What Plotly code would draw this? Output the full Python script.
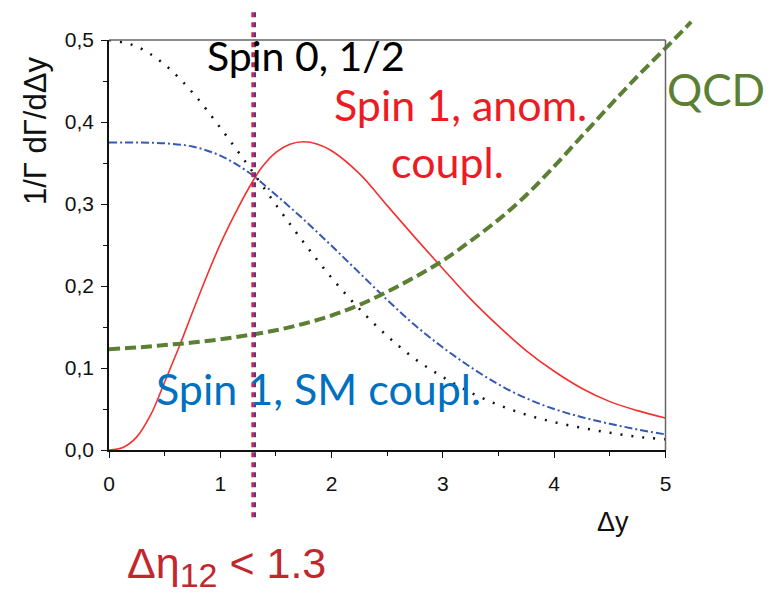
import plotly.graph_objects as go

# ---------------- data ----------------
dy = [0.0, 0.25, 0.5, 0.75, 1.0, 1.25, 1.5, 1.75, 2.0, 2.25, 2.5,
      2.75, 3.0, 3.25, 3.5, 3.75, 4.0, 4.25, 4.5, 4.75, 5.0]
spin0_half = [0.500, 0.492, 0.470, 0.436, 0.393, 0.347, 0.299, 0.253, 0.210, 0.172, 0.139,
              0.111, 0.089, 0.070, 0.055, 0.043, 0.034, 0.027, 0.021, 0.016, 0.013]
spin1_sm = [0.375, 0.375, 0.374, 0.370, 0.359, 0.339, 0.311, 0.281, 0.249, 0.216, 0.183,
            0.152, 0.125, 0.101, 0.080, 0.063, 0.050, 0.040, 0.032, 0.025, 0.019]
anom_dy = [0.0, 0.125, 0.25, 0.375, 0.5, 0.625, 0.75, 0.875, 1.0, 1.125, 1.25, 1.375,
           1.5, 1.625, 1.75, 1.875, 2.0, 2.25, 2.5, 2.75, 3.0, 3.25, 3.5, 3.75,
           4.0, 4.25, 4.5, 4.75, 5.0]
spin1_anom = [0.000, 0.003, 0.016, 0.043, 0.083, 0.124, 0.168, 0.211, 0.251, 0.286, 0.318, 0.345,
              0.363, 0.373, 0.376, 0.373, 0.365, 0.337, 0.298, 0.259, 0.221, 0.184, 0.151, 0.121,
              0.096, 0.075, 0.059, 0.048, 0.039]
qcd_dy = [0.0, 0.25, 0.5, 0.75, 1.0, 1.25, 1.5, 1.75, 2.0, 2.25, 2.5,
          2.75, 3.0, 3.25, 3.5, 3.75, 4.0, 4.25, 4.5, 4.75, 5.0, 5.23]
qcd = [0.123, 0.125, 0.128, 0.131, 0.135, 0.140, 0.146, 0.154, 0.164, 0.177, 0.193,
       0.211, 0.231, 0.255, 0.281, 0.311, 0.346, 0.383, 0.420, 0.456, 0.490, 0.522]
cut_value = 1.3
cut_line_span = [-0.082, 0.539]
x_tick_vals = [0, 1, 2, 3, 4, 5]
y_tick_vals = [0.0, 0.1, 0.2, 0.3, 0.4, 0.5]

# ---------------- layout geometry ----------------
W, H = 773, 593
X0PX, X5PX = 109.0, 665.5
Y0PX, YTPX = 450.0, 40.0
XMAX, YMAX = 5.0, 0.5
ux = (X5PX - X0PX) / XMAX
uy = (Y0PX - YTPX) / YMAX

GILL = "Lato"
ARIAL = "Liberation Sans"

fig = go.Figure()

# main-axis curves
fig.add_trace(go.Scatter(x=dy, y=spin0_half, mode="lines", line_shape="spline",
                         line=dict(color="#111111", width=2.5, dash="2px,9px"),
                         xaxis="x", yaxis="y", showlegend=False))
fig.add_trace(go.Scatter(x=dy, y=spin1_sm, mode="lines", line_shape="spline",
                         line=dict(color="#3558B0", width=2, dash="8px,3px,2px,3px"),
                         xaxis="x", yaxis="y", showlegend=False))
fig.add_trace(go.Scatter(x=anom_dy, y=spin1_anom, mode="lines", line_shape="spline",
                         line=dict(color="#F5312F", width=1.6),
                         xaxis="x", yaxis="y", showlegend=False))

# overlay (whole figure) axes with identical scale, for marks drawn past the frame
fig.add_trace(go.Scatter(x=qcd_dy, y=qcd, mode="lines", line_shape="spline",
                         line=dict(color="#5B7F33", width=4, dash="11px,5px"),
                         xaxis="x2", yaxis="y2", showlegend=False))
off = 1.1 / ux
fig.add_trace(go.Scatter(x=[cut_value - off] * 2, y=cut_line_span, mode="lines",
                         line=dict(color="#D01A36", width=2.4, dash="5px,5px"),
                         xaxis="x2", yaxis="y2", showlegend=False))
fig.add_trace(go.Scatter(x=[cut_value + off] * 2, y=cut_line_span, mode="lines",
                         line=dict(color="#62308E", width=2.4, dash="5px,5px"),
                         xaxis="x2", yaxis="y2", showlegend=False))

tickfont = dict(family=ARIAL, size=21, color="#111111")
fig.update_layout(
    template="none",
    width=W, height=H, autosize=False,
    margin=dict(l=0, r=0, t=0, b=0, pad=0, autoexpand=False),
    paper_bgcolor="white", plot_bgcolor="rgba(0,0,0,0)",
    separators=",.",
    xaxis=dict(domain=[X0PX / W, X5PX / W], range=[0, XMAX], anchor="y", automargin=False,
               showgrid=False, zeroline=False, showline=True, linecolor="#111111", linewidth=1.5,
               ticks="outside", ticklen=6, tickwidth=1.3, tickcolor="#111111",
               tickvals=x_tick_vals, tickformat="d", tickfont=tickfont, ticklabelstandoff=8,
               minor=dict(dtick=0.5, ticks="outside", ticklen=4, tickwidth=1.2, tickcolor="#111111")),
    yaxis=dict(domain=[(H - Y0PX) / H, (H - YTPX) / H], range=[0, YMAX], anchor="x", automargin=False,
               showgrid=False, zeroline=False, showline=True, linecolor="#111111", linewidth=1.5,
               ticks="outside", ticklen=6, tickwidth=1.3, tickcolor="#111111",
               tickvals=y_tick_vals, tickformat=".1f", tickfont=tickfont, ticklabelstandoff=3,
               minor=dict(dtick=0.05, ticks="outside", ticklen=4, tickwidth=1.2, tickcolor="#111111")),
    xaxis2=dict(domain=[0, 1], range=[-X0PX / ux, (W - X0PX) / ux], anchor="y2",
                visible=False, fixedrange=True, automargin=False),
    yaxis2=dict(domain=[0, 1], range=[-(H - Y0PX) / uy, Y0PX / uy], anchor="x2",
                visible=False, fixedrange=True, automargin=False),
)

# top / right frame (grey)
fig.add_shape(type="line", xref="x domain", yref="y domain", x0=0, x1=1, y0=1, y1=1,
              line=dict(color="#666666", width=1.5))
fig.add_shape(type="line", xref="x domain", yref="y domain", x0=1, x1=1, y0=0, y1=1,
              line=dict(color="#666666", width=1.5))


def ann(text, cx, cy, size, color, family, angle=0):
    fig.add_annotation(text=text, x=cx / W, y=1 - cy / H, xref="paper", yref="paper",
                       xanchor="center", yanchor="middle", showarrow=False, textangle=angle,
                       font=dict(family=family, size=size, color=color))


ann("Spin 0, 1/2", 306, 55, 41, "#000000", GILL)
ann("Spin 1, anom.", 460, 104, 43, "#ED1C24", GILL)
ann("coupl.", 448, 161, 43, "#ED1C24", GILL)
ann("QCD", 716, 89, 44, "#5B7F33", GILL)
ann("Spin 1, SM coupl.", 318, 388, 43, "#0070C0", GILL)
ann("Δη<sub><span style='font-size:34px'>12</span></sub> &lt; 1.3", 226, 566, 43, "#C1272D", ARIAL)
ann("Δy", 613, 522, 27, "#111111", ARIAL)
ann("1/Γ dΓ/dΔy", 35, 131, 31, "#111111", ARIAL, angle=-90)

fig.write_html("out.html")
